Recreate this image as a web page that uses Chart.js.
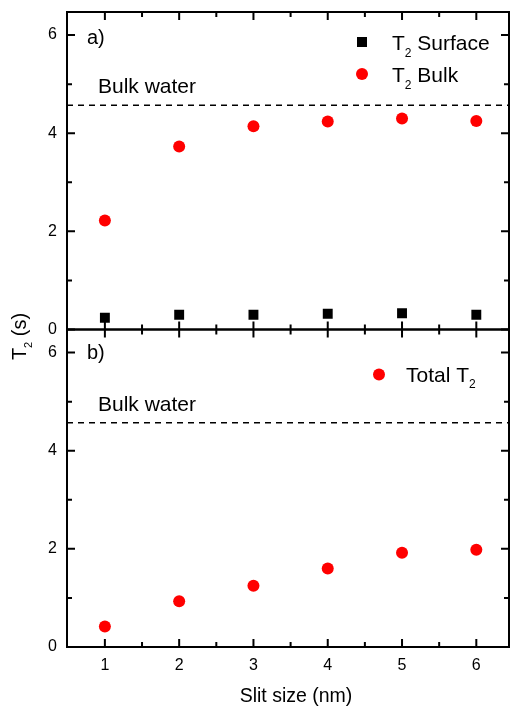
<!DOCTYPE html>
<html><head><meta charset="utf-8">
<script src="https://cdn.jsdelivr.net/npm/chart.js@4.4.1/dist/chart.umd.min.js"></script>
<style>html,body{margin:0;padding:0;background:#fff;} #wrap{width:516px;height:706px;position:relative}</style>
</head><body><div id="wrap"><canvas id="c" width="516" height="706"></canvas></div>
<script>
// ---- data ----
const slitSizes = [1, 2, 3, 4, 5, 6];
const t2Surface = [0.24, 0.30, 0.30, 0.32, 0.33, 0.30];
const t2Bulk = [2.22, 3.73, 4.14, 4.24, 4.30, 4.25];
const totalT2 = [0.42, 0.93, 1.25, 1.60, 1.92, 1.98];
const bulkWaterT2 = 4.57;
const xTicks = [1, 2, 3, 4, 5, 6];
const xMinorTicks = [1.5, 2.5, 3.5, 4.5, 5.5];
const yTicks = [0, 2, 4, 6];
const yMinorTicks = [1, 3, 5];
const xRange = [0.49, 6.44];
const yRange = [0, 6.47];
const panelLabels = ['a)', 'b)'];
const bulkLabel = 'Bulk water';
const xTitle = 'Slit size (nm)';

const FONT = "'Liberation Sans', Arial, Helvetica, sans-serif";
const pts = (ys) => slitSizes.map((x, i) => ({x, y: ys[i]}));
const hline = (v) => [{x: xRange[0], y: v}, {x: xRange[1], y: v}];

function drawRich(ctx, parts, x, y, size) {
  let cx = x;
  for (const [t, sub] of parts) {
    ctx.font = (sub ? Math.round(size * 0.57) : size) + 'px ' + FONT;
    ctx.fillText(t, cx, sub ? y + size * 0.32 : y);
    cx += ctx.measureText(t).width;
  }
  return cx - x;
}
function richWidth(ctx, parts, size) {
  let w = 0;
  for (const [t, sub] of parts) {
    ctx.font = (sub ? Math.round(size * 0.57) : size) + 'px ' + FONT;
    w += ctx.measureText(t).width;
  }
  return w;
}

const framePlugin = {
  id: 'frame',
  afterDatasetsDraw(chart) {
    const {ctx, chartArea: ca, scales} = chart;
    const x = scales.x;
    ctx.save();
    ctx.strokeStyle = '#000';
    ctx.fillStyle = '#000';
    ctx.lineWidth = 2;
    const panels = [scales.ya, scales.yb];
    panels.forEach((y, pi) => {
      ctx.strokeRect(ca.left, y.top, ca.right - ca.left, y.bottom - y.top);
      ctx.beginPath();
      const xt = (v, len) => {
        const px = x.getPixelForValue(v);
        ctx.moveTo(px, y.bottom); ctx.lineTo(px, y.bottom - len);
        ctx.moveTo(px, y.top); ctx.lineTo(px, y.top + len);
      };
      const yt = (v, len) => {
        const py = y.getPixelForValue(v);
        ctx.moveTo(ca.left, py); ctx.lineTo(ca.left + len, py);
        ctx.moveTo(ca.right, py); ctx.lineTo(ca.right - len, py);
      };
      xTicks.forEach(v => xt(v, 8));
      xMinorTicks.forEach(v => xt(v, 5));
      yTicks.forEach(v => yt(v, 8));
      yMinorTicks.forEach(v => yt(v, 5));
      ctx.stroke();

      ctx.textBaseline = 'alphabetic';
      ctx.textAlign = 'left';
      ctx.font = '20px ' + FONT;
      ctx.fillText(panelLabels[pi], ca.left + 20, y.top + (pi === 0 ? 32 : 29));
      const by = y.getPixelForValue(bulkWaterT2);
      ctx.font = '21px ' + FONT;
      ctx.fillText(bulkLabel, ca.left + 31, by - 12);
    });

    const ya = scales.ya, yb = scales.yb;
    ctx.textAlign = 'left';
    // legend panel a
    ctx.fillStyle = '#000';
    ctx.fillRect(ca.right - 152, ya.top + 25, 10, 10);
    drawRich(ctx, [['T', false], ['2', true], [' Surface', false]], ca.right - 117, ya.top + 38, 21);
    ctx.fillStyle = '#ff0000';
    ctx.beginPath(); ctx.arc(ca.right - 147, ya.top + 62, 6, 0, Math.PI * 2); ctx.fill();
    ctx.fillStyle = '#000';
    drawRich(ctx, [['T', false], ['2', true], [' Bulk', false]], ca.right - 117, ya.top + 70, 21);
    // legend panel b
    ctx.fillStyle = '#ff0000';
    ctx.beginPath(); ctx.arc(ca.right - 130, yb.top + 45, 6, 0, Math.PI * 2); ctx.fill();
    ctx.fillStyle = '#000';
    drawRich(ctx, [['Total T', false], ['2', true]], ca.right - 103, yb.top + 52, 21);

    // y title
    const parts = [['T', false], ['2', true], [' (s)', false]];
    const w = richWidth(ctx, parts, 20);
    ctx.save();
    ctx.translate(26, ya.bottom + 7);
    ctx.rotate(-Math.PI / 2);
    drawRich(ctx, parts, -w / 2, 0, 20);
    ctx.restore();

    // x title
    ctx.font = '19.5px ' + FONT;
    ctx.textAlign = 'center';
    ctx.fillText(xTitle, (ca.left + ca.right) / 2 + 8, 702);
    ctx.restore();
  }
};

const zeroPad = s => { s.paddingTop = 0; s.paddingBottom = 0; s.paddingLeft = 0; s.paddingRight = 0; };
const yScale = (weight) => ({
  type: 'linear', position: 'left', stack: 'panels', stackWeight: 1, weight,
  min: yRange[0], max: yRange[1],
  afterBuildTicks: s => { s.ticks = yTicks.map(v => ({value: v})); },
  afterFit: s => { s.width = 67; zeroPad(s); },
  grid: {display: false, drawTicks: false}, border: {display: false},
  ticks: {color: '#000', font: {family: FONT, size: 16}, padding: 10}
});

new Chart(document.getElementById('c'), {
  type: 'scatter',
  data: {
    datasets: [
      {label: 'T2 Surface', data: pts(t2Surface), yAxisID: 'ya', pointStyle: 'rect', pointRadius: 7, pointBorderWidth: 0, backgroundColor: '#000', borderColor: '#000'},
      {label: 'T2 Bulk', data: pts(t2Bulk), yAxisID: 'ya', pointStyle: 'circle', pointRadius: 6, pointBorderWidth: 0, backgroundColor: '#ff0000', borderColor: '#ff0000'},
      {label: 'Bulk water a', type: 'line', data: hline(bulkWaterT2), yAxisID: 'ya', borderColor: '#000', borderWidth: 1.5, borderDash: [6, 5], pointRadius: 0, fill: false},
      {label: 'Total T2', data: pts(totalT2), yAxisID: 'yb', pointStyle: 'circle', pointRadius: 6, pointBorderWidth: 0, backgroundColor: '#ff0000', borderColor: '#ff0000'},
      {label: 'Bulk water b', type: 'line', data: hline(bulkWaterT2), yAxisID: 'yb', borderColor: '#000', borderWidth: 1.5, borderDash: [6, 5], pointRadius: 0, fill: false}
    ]
  },
  options: {
    responsive: false, animation: false,
    layout: {padding: {top: 12, right: 4, left: 0, bottom: 0}},
    plugins: {legend: {display: false}, tooltip: {enabled: false}},
    scales: {
      x: {
        type: 'linear', position: 'bottom', min: xRange[0], max: xRange[1],
        afterBuildTicks: s => { s.ticks = xTicks.map(v => ({value: v})); },
        afterFit: s => { s.height = 59; zeroPad(s); },
        grid: {display: false, drawTicks: false}, border: {display: false},
        ticks: {color: '#000', font: {family: FONT, size: 16}, padding: 9, maxRotation: 0},
        title: {display: false}
      },
      ya: yScale(2),
      yb: yScale(1)
    }
  },
  plugins: [framePlugin]
});
</script></body></html>
